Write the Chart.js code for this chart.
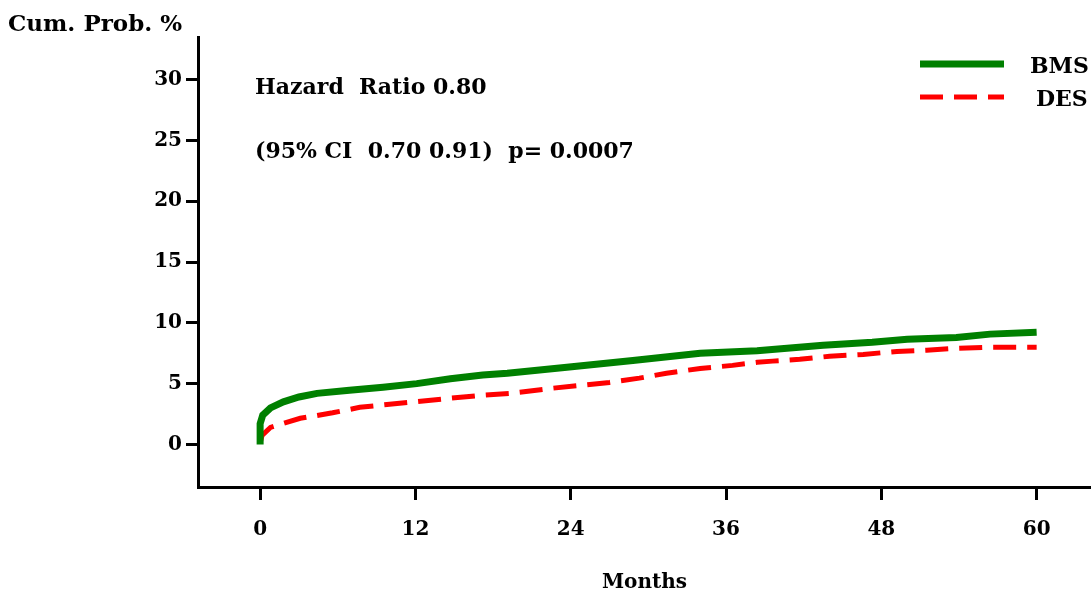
<!DOCTYPE html>
<html>
<head>
<meta charset="utf-8">
<script src="https://cdn.jsdelivr.net/npm/chart.js@4"></script>
<style>
  html, body { margin: 0; padding: 0; background: #fff; }
  canvas { display: block; }
</style>
</head>
<body>
<canvas id="chart" width="1091" height="599"></canvas>
<script>
// values
const bmsMonths = [0, 0, 0.2, 0.8, 1.8, 3, 4.4, 6.9, 9.5, 12.1, 14.7, 17.2, 19.1, 23.7, 28.8, 34, 38.4, 43.5, 47.3, 50, 53.8, 56.4, 60];
const bmsPct = [0, 1.7, 2.4, 3.0, 3.5, 3.9, 4.2, 4.45, 4.7, 5.0, 5.4, 5.7, 5.85, 6.35, 6.9, 7.5, 7.7, 8.15, 8.4, 8.65, 8.8, 9.07, 9.23];
const desMonths = [0, 0.15, 0.8, 3.1, 5.6, 7.7, 10, 12.4, 14.7, 17.2, 19.3, 22.4, 24.7, 27, 29.3, 31.4, 34, 36.5, 38.4, 39.6, 41.7, 44, 46.6, 49.2, 51.5, 53.8, 56.4, 60];
const desPct = [0.1, 0.75, 1.4, 2.15, 2.6, 3.05, 3.3, 3.55, 3.8, 4.05, 4.2, 4.6, 4.85, 5.1, 5.45, 5.85, 6.25, 6.5, 6.75, 6.85, 7.0, 7.25, 7.4, 7.65, 7.75, 7.9, 8.0, 8.0];
const xTicks = [0, 12, 24, 36, 48, 60];
const yTicks = [0, 5, 10, 15, 20, 25, 30];
const seriesNames = ['BMS', 'DES'];
const notes = ['Hazard  Ratio 0.80', '(95% CI  0.70 0.91)  p= 0.0007'];

const FONT = '"DejaVu Serif", serif';

const toPoints = (xs, ys) => xs.map((x, i) => ({ x: x, y: ys[i] }));

// text, y-axis heading and legend are painted by hand
const extras = {
  id: 'extras',
  afterDraw(chart) {
    const ctx = chart.ctx;
    const area = chart.chartArea;
    ctx.save();
    ctx.fillStyle = '#000';
    ctx.textBaseline = 'middle';
    ctx.textAlign = 'left';
    ctx.font = 'bold 23px ' + FONT;
    ctx.fillText('Cum. Prob. %', 8, 25);

    ctx.font = 'bold 22px ' + FONT;
    ctx.fillText(notes[0], area.left + 57, 88);
    ctx.fillText(notes[1], area.left + 57, 152);

    // legend
    chart.data.datasets.forEach((ds, i) => {
      const y = 64 + i * 33;
      ctx.beginPath();
      ctx.strokeStyle = ds.borderColor;
      ctx.lineWidth = ds.borderWidth;
      ctx.setLineDash(ds.borderDash || []);
      ctx.moveTo(920, y);
      ctx.lineTo(1004, y);
      ctx.stroke();
      ctx.setLineDash([]);
      ctx.font = 'bold 22px ' + FONT;
      ctx.fillText(ds.label, 1030 + i * 6, y + 3);
    });
    ctx.restore();
  }
};

new Chart(document.getElementById('chart'), {
  type: 'line',
  data: {
    datasets: [
      {
        label: seriesNames[0],
        data: toPoints(bmsMonths, bmsPct),
        borderColor: '#008000',
        borderWidth: 7,
        pointRadius: 0,
        fill: false
      },
      {
        label: seriesNames[1],
        data: toPoints(desMonths, desPct),
        borderColor: '#ff0000',
        borderWidth: 5,
        borderDash: [23, 11],
        pointRadius: 0,
        fill: false
      }
    ]
  },
  options: {
    responsive: false,
    animation: false,
    layout: { padding: { top: 37, right: 0, left: 0, bottom: 0 } },
    plugins: {
      legend: { display: false },
      tooltip: { enabled: false }
    },
    scales: {
      x: {
        type: 'linear',
        min: -4.8,
        max: 64.2,
        afterBuildTicks: s => { s.ticks = xTicks.map(v => ({ value: v })); },
        afterFit: s => { s.height = 112; },
        border: { display: true, color: '#000', width: 3 },
        grid: { drawOnChartArea: false, drawTicks: true, tickLength: 13, tickWidth: 3, color: '#000' },
        ticks: { color: '#000', padding: 18, font: { family: FONT, weight: 'bold', size: 20 } },
        title: {
          display: true,
          text: 'Months',
          color: '#000',
          padding: { top: 16 },
          font: { family: FONT, weight: 'bold', size: 20 }
        }
      },
      y: {
        min: -3.5,
        max: 33.5,
        afterBuildTicks: s => { s.ticks = yTicks.map(v => ({ value: v })); },
        afterFit: s => { s.width = 198; },
        border: { display: true, color: '#000', width: 3 },
        grid: { drawOnChartArea: false, drawTicks: true, tickLength: 12, tickWidth: 3, color: '#000' },
        ticks: { color: '#000', padding: 4, font: { family: FONT, weight: 'bold', size: 20 } }
      }
    }
  },
  plugins: [extras]
});
</script>
</body>
</html>
